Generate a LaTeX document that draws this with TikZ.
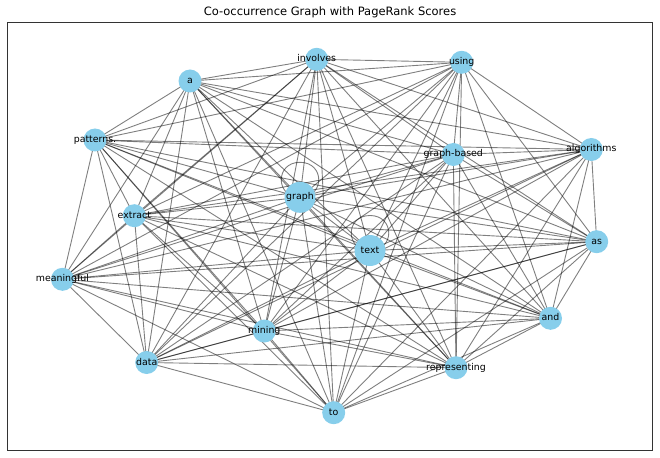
\documentclass[tikz,border=0pt]{standalone}
\usepackage{fontspec}
\setmainfont{DejaVu Sans}
\usetikzlibrary{calc,backgrounds}
\definecolor{skyblue}{RGB}{135,206,235}
\begin{document}
\begin{tikzpicture}[x=1pt,y=-1pt,
  vert/.style={circle,fill=skyblue,inner sep=0pt,minimum size=23pt},
  bigvert/.style={vert,minimum size=31pt},
  lab/.style={font=\fontsize{9.4}{11}\selectfont,text=black,inner sep=0pt,text height=0.75em,text depth=0.25em},
  edge/.style={draw=black,opacity=0.5,line width=0.9pt}]
\useasboundingbox (0,0) rectangle (660,457);
\node[font=\fontsize{11.5}{13}\selectfont,inner sep=0pt] (title) at (330,12.5) {Co-occurrence Graph with PageRank Scores};
\draw[line width=0.8pt,draw=black!80] (7,22.7) rectangle (652.5,450);
% nodes
\node[vert,label={[lab]center:involves}] (ninv) at (316.7,59.3) {};
\node[vert,label={[lab]center:using}] (nusi) at (461.7,62.3) {};
\node[vert,label={[lab]center:a}] (na) at (190,81) {};
\node[vert,label={[lab]center:patterns.}] (npat) at (95,140) {};
\node[vert,label={[lab]center:graph-based}] (ngb) at (453.3,154.5) {};
\node[vert,label={[lab]center:algorithms}] (nalg) at (591.3,149.5) {};
\node[bigvert,label={[lab]center:graph}] (ngr) at (300,197.3) {};
\node[vert,label={[lab]center:extract}] (next) at (134.3,215.7) {};
\node[bigvert,label={[lab]center:text}] (ntx) at (370,250.5) {};
\node[vert,label={[lab]center:as}] (nas) at (596.7,241.7) {};
\node[vert,label={[lab]center:meaningful}] (nmea) at (62.5,279.3) {};
\node[vert,label={[lab]center:and}] (nand) at (550.5,318.3) {};
\node[vert,label={[lab]center:mining}] (nmin) at (264.3,331) {};
\node[vert,label={[lab]center:data}] (ndat) at (146.7,362.5) {};
\node[vert,label={[lab]center:representing}] (nrep) at (456,367.7) {};
\node[vert,label={[lab]center:to}] (nto) at (333.7,412.7) {};
% edges
\begin{scope}[on background layer]
\foreach \u [count=\i] in {ninv,nusi,na,npat,ngb,nalg,ngr,next,ntx,nas,nmea,nand,nmin,ndat,nrep,nto}{
  \foreach \v [count=\j] in {ninv,nusi,na,npat,ngb,nalg,ngr,next,ntx,nas,nmea,nand,nmin,ndat,nrep,nto}{
    \ifnum\j>\i
      \draw[edge] (\u.center) -- (\v.center);
    \fi
  }
}
\foreach \u in {ngr,ntx}{
  \draw[edge] (\u.center) .. controls ($(\u.center)+(25,0)$) and ($(\u.center)+(25,-35)$) .. ($(\u.center)+(0,-35)$)
     .. controls ($(\u.center)+(-25,-35)$) and ($(\u.center)+(-25,0)$) .. (\u.center);
}
\end{scope}
\end{tikzpicture}
\end{document}
